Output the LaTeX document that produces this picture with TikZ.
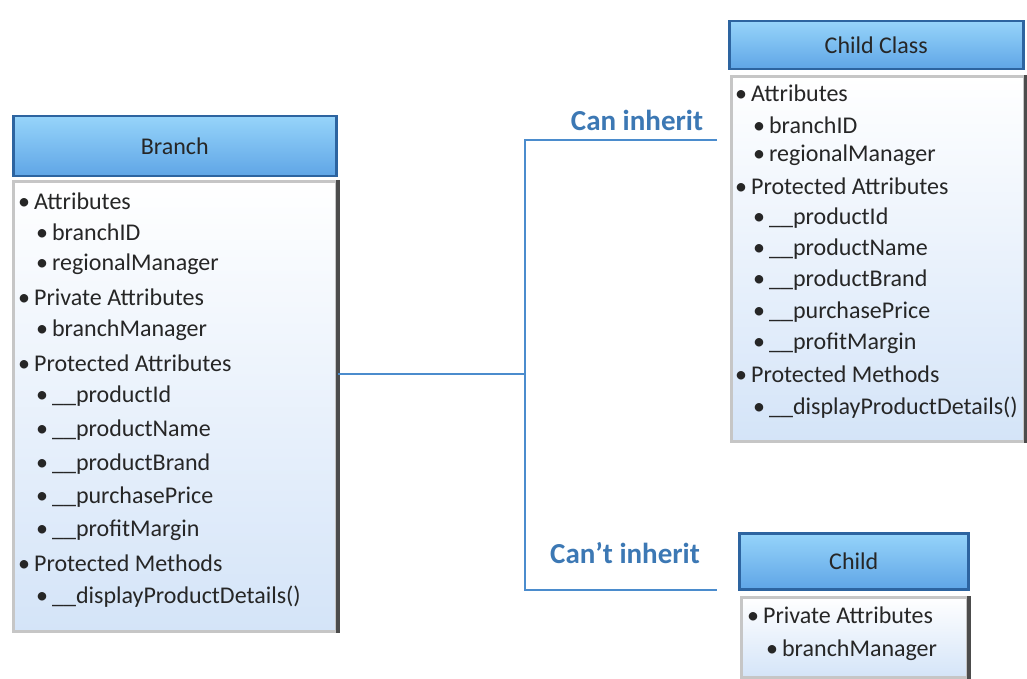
\documentclass[tikz,border=0pt]{standalone}
\usepackage{fontspec}
\setmainfont{Carlito}
\usetikzlibrary{positioning}
\definecolor{headtop}{RGB}{150,212,250}
\definecolor{headbot}{RGB}{95,165,230}
\definecolor{headline}{RGB}{45,100,160}
\definecolor{bodybot}{RGB}{212,228,248}
\definecolor{linkblue}{RGB}{75,140,205}
\definecolor{lblblue}{RGB}{60,120,180}
\tikzset{
  head/.style={draw=headline, line width=2.5pt, top color=headtop, bottom color=headbot,
    anchor=north west, inner sep=0pt, font=\fontsize{24}{28}\selectfont, text=black!85},
  body/.style={draw=gray!45, line width=3pt, top color=white, bottom color=bodybot,
    anchor=north west, inner sep=0pt},
  edge/.style={line width=4pt, gray!60!black},
  row/.style={anchor=west, inner sep=0pt, font=\fontsize{24}{28}\selectfont, text=black!85},
  link/.style={linkblue, line width=2pt},
  lbl/.style={lblblue, font=\fontsize{29}{33}\selectfont\bfseries, inner sep=0pt}
}
\begin{document}
\begin{tikzpicture}[x=1pt, y=-1pt]
\useasboundingbox (0,0) rectangle (1027,679);

% base class
\node[head, minimum width=323pt, minimum height=60pt] (bhead) at (12,115) {Branch};
\node[body, minimum width=323pt, minimum height=450pt] (bbody) at (12,180) {};
\draw[edge] (bbody.north east) -- (bbody.south east);
\foreach \lv/\txt/\y [count=\i] in {1/Attributes/201, 2/branchID/232, 2/regionalManager/264,
  1/Private Attributes/297, 2/branchManager/330, 1/Protected Attributes/363,
  2/\_\_productId/396, 2/\_\_productName/430, 2/\_\_productBrand/464,
  2/\_\_purchasePrice/497, 2/\_\_profitMargin/530, 1/Protected Methods/563,
  2/\_\_displayProductDetails()/597}
  \node[row] (br\i) at ({18+(\lv-1)*18},\y) {\textbullet\hspace{4pt}\txt};

% child that inherits
\node[head, minimum width=294pt, minimum height=48pt] (chead) at (728,20) {Child Class};
\node[body, minimum width=293pt, minimum height=365pt] (cbody) at (730,75) {};
\draw[edge] (cbody.north east) -- (cbody.south east);
\foreach \lv/\txt/\y [count=\i] in {1/Attributes/93, 2/branchID/125, 2/regionalManager/155,
  1/Protected Attributes/186, 2/\_\_productId/218, 2/\_\_productName/249,
  2/\_\_productBrand/280, 2/\_\_purchasePrice/312, 2/\_\_profitMargin/343,
  1/Protected Methods/374, 2/\_\_displayProductDetails()/408}
  \node[row] (cr\i) at ({735+(\lv-1)*18},\y) {\textbullet\hspace{4pt}\txt};

% child that does not
\node[head, minimum width=229pt, minimum height=56pt] (khead) at (738,532) {Child};
\node[body, minimum width=226pt, minimum height=80pt] (kbody) at (740,596) {};
\draw[edge] (kbody.north east) -- (kbody.south east);
\foreach \lv/\txt/\y [count=\i] in {1/Private Attributes/615, 2/branchManager/650}
  \node[row] (kr\i) at ({747+(\lv-1)*19},\y) {\textbullet\hspace{4pt}\txt};

% connectors
\coordinate (j) at (525,374);
\coordinate (jt) at (525,140);
\coordinate (jb) at (525,590);
\coordinate (et) at (717,140);
\coordinate (eb) at (717,590);
\draw[link] (bbody.east |- j) -- (j);
\draw[link] (et) -- (jt) -- (jb) -- (eb);
\node[lbl] (can) at (637,120) {Can inherit};
\node[lbl] (cant) at (625,553) {Can’t inherit};
\end{tikzpicture}
\end{document}
